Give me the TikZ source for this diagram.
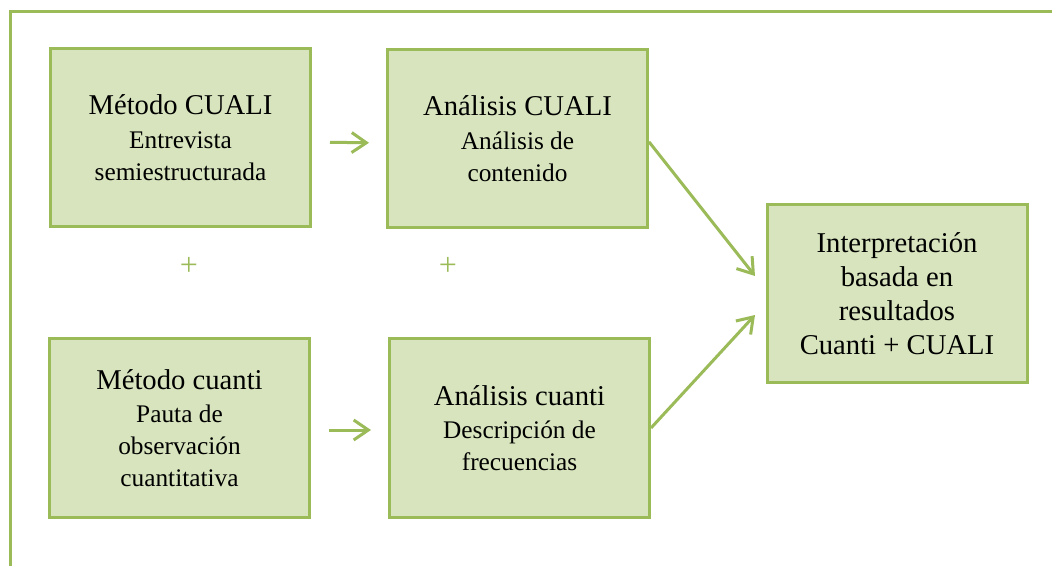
\documentclass[tikz,border=0pt]{standalone}
\usepackage{fontspec}
\setmainfont{Liberation Serif}
\usetikzlibrary{arrows.meta}

\definecolor{boxfill}{HTML}{D7E4BD}
\definecolor{boxline}{HTML}{9BBB59}
\newcommand{\titulo}[1]{{\fontsize{21.5}{25.5}\selectfont #1}}

\begin{document}
\begin{tikzpicture}[
  x=0.75pt, y=-0.75pt,
  box/.style={rectangle, draw=boxline, fill=boxfill, line width=2.25pt,
    minimum width=195pt, minimum height=134pt, align=center,
    font=\fontsize{19}{24}\selectfont},
  link/.style={draw=boxline, line width=2.25pt,
    -{Straight Barb[length=11pt, width=15pt]}},
  plus/.style={text=boxline, font=\fontsize{24}{28}\selectfont}
]
\useasboundingbox (0,0) rectangle (1052,566);

% Frame
\draw[boxline, line width=2.25pt] (1052,12) -- (10,12) -- (10,566);

% Nodes
\node[box] (m1) at (180.5,137.5) {\titulo{Método CUALI}\\[1pt] Entrevista\\ semiestructurada};
\node[box] (a1) at (517.5,138.5) {\titulo{Análisis CUALI}\\[1pt] Análisis de\\ contenido};
\node[box] (m2) at (179.5,428) {\titulo{Método cuanti}\\[1pt] Pauta de\\ observación\\ cuantitativa};
\node[box] (a2) at (519.5,428) {\titulo{Análisis cuanti}\\[1pt] Descripción de\\ frecuencias};
\node[box, font=\fontsize{21.5}{25.5}\selectfont] (res) at (897,293.5)
  {Interpretación\\ basada en\\ resultados\\ Cuanti + CUALI};

\node[plus] (p1) at (189,266) {+};
\node[plus] (p2) at (448,266) {+};

\coordinate (in1) at (755,276);
\coordinate (in2) at (755,315);

% Edges
\draw[link, shorten <=13.5pt, shorten >=12.75pt] ([yshift=-3.4pt]m1.east) -- ([yshift=-3.4pt]a1.west);
\draw[link, shorten <=13.5pt, shorten >=12.75pt] ([yshift=-1.5pt]m2.east) -- ([yshift=-1.5pt]a2.west);
\draw[link] ([yshift=-2.5pt]a1.east) -- (in1);
\draw[link] (a2.east) -- (in2);

\end{tikzpicture}
\end{document}
